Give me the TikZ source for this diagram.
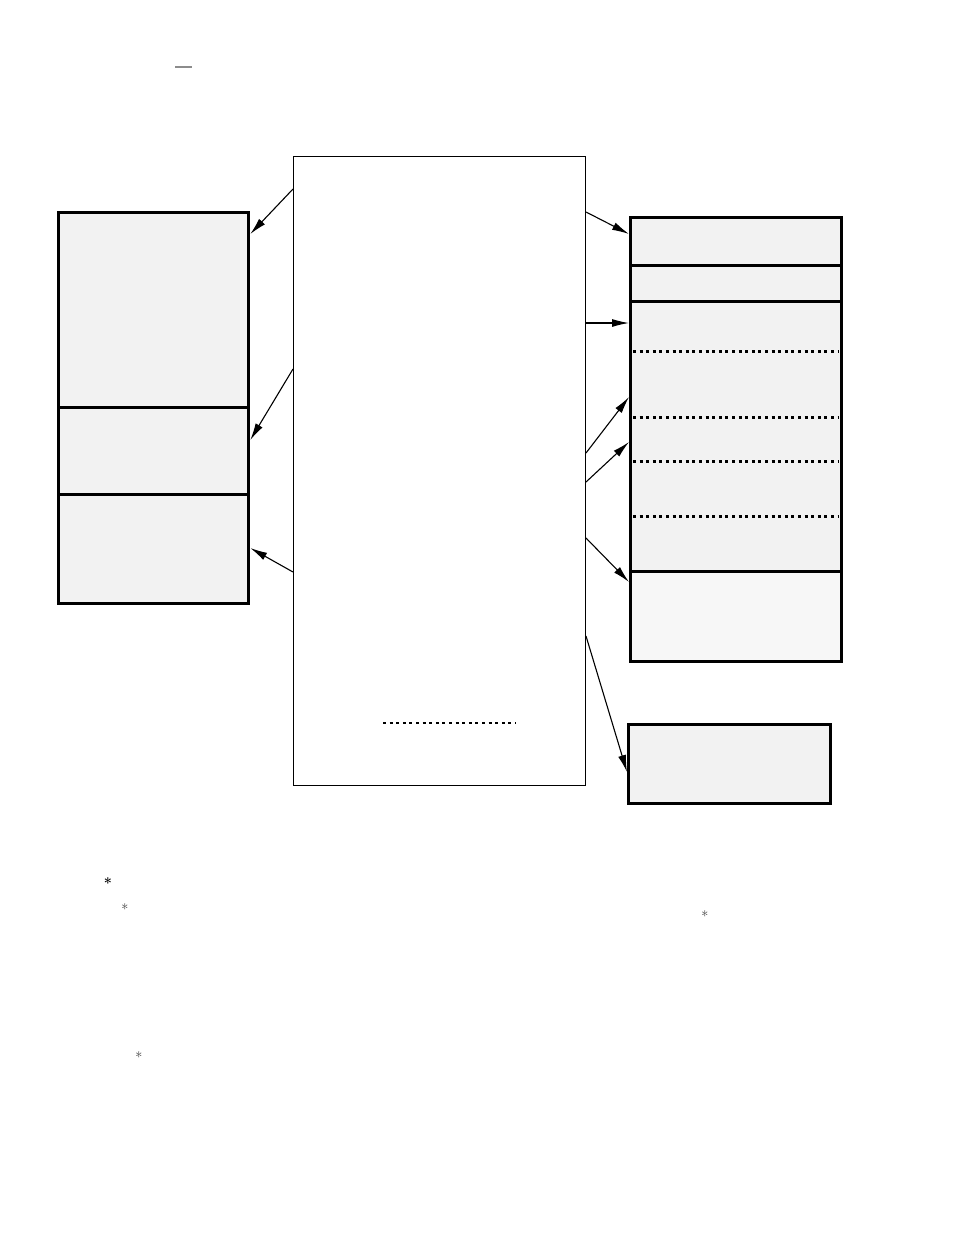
\documentclass[tikz,border=0pt]{standalone}
\usetikzlibrary{positioning, arrows.meta}

\begin{document}
\begin{tikzpicture}[x=1pt, y=-1pt,
        Panel/.style = {rectangle, draw = black, fill = black!5, line width = 3.3pt, inner sep = 0, anchor = north west},
        % 
        Sheet/.style = {rectangle, draw = black, line width = 1pt, inner sep = 0, anchor = north west},
        % 
        Link/.style = {line width = 1.1pt, -{Latex[length = 17pt, width = 8pt]}},
        % 
        Split/.style = {line width = 3pt, dash pattern = on 3pt off 3.6pt},
        % 
        Mark/.style = {inner sep = 0, font = \Large},
    ]
        \useasboundingbox (0,0) rectangle (954,1235);

        % Centre
        \node[Sheet, minimum width = 292pt, minimum height = 629pt] (Centre) at (293,156) {};
        \draw[Split, line width = 2.5pt] (383,723) -- (516,723);

        % Left
        \node[Panel, minimum width = 190pt, minimum height = 195pt] (LeftTop) at (57,211) {};
        \node[Panel, minimum width = 190pt, minimum height = 87pt] (LeftMid) at (57,406) {};
        \node[Panel, minimum width = 190pt, minimum height = 109pt] (LeftBot) at (57,493) {};

        % Right
        \node[Panel, minimum width = 211pt, minimum height = 48pt] (RightA) at (629,216) {};
        \node[Panel, minimum width = 211pt, minimum height = 36pt] (RightB) at (629,264) {};
        \node[Panel, minimum width = 211pt, minimum height = 270pt] (RightC) at (629,300) {};
        \node[Panel, fill = black!3, minimum width = 211pt, minimum height = 90pt] (RightD) at (629,570) {};
        \draw[Split] (633,351) -- (838,351);
        \draw[Split] (633,417) -- (838,417);
        \draw[Split] (633,461) -- (838,461);
        \draw[Split] (633,516) -- (838,516);

        \node[Panel, minimum width = 202pt, minimum height = 79pt] (RightLow) at (627,723) {};

        % Marks
        \draw[black!45, line width = 1.5pt] (175,67) -- (192,67);
        \node[Mark, font = \Large\bfseries] (Ast1) at (108,883) {*};
        \node[Mark, text = black!80] (Ast2) at (125,909) {*};
        \node[Mark, text = black!80] (Ast3) at (705,916) {*};
        \node[Mark, text = black!80] (Ast4) at (139,1057) {*};

        % Arrows left
        \draw[Link] (Centre.west |- 0,189) -- (LeftTop.east |- 0,234);
        \draw[Link] (Centre.west |- 0,369) -- (LeftMid.east |- 0,440);
        \draw[Link] (Centre.west |- 0,572) -- (LeftBot.east |- 0,548);

        % Arrows right
        \draw[Link] (Centre.east |- 0,212) -- (RightA.west |- 0,234);
        \draw[Link] (Centre.east |- 0,323) -- (RightC.west |- 0,323);
        \draw[Link] (Centre.east |- 0,453) -- (RightC.west |- 0,397);
        \draw[Link] (Centre.east |- 0,482) -- (RightC.west |- 0,442);
        \draw[Link] (Centre.east |- 0,538) -- (RightD.west |- 0,582);
        \draw[Link] (Centre.east |- 0,636) -- (RightLow.west |- 0,772);

    \end{tikzpicture}
\end{document}
